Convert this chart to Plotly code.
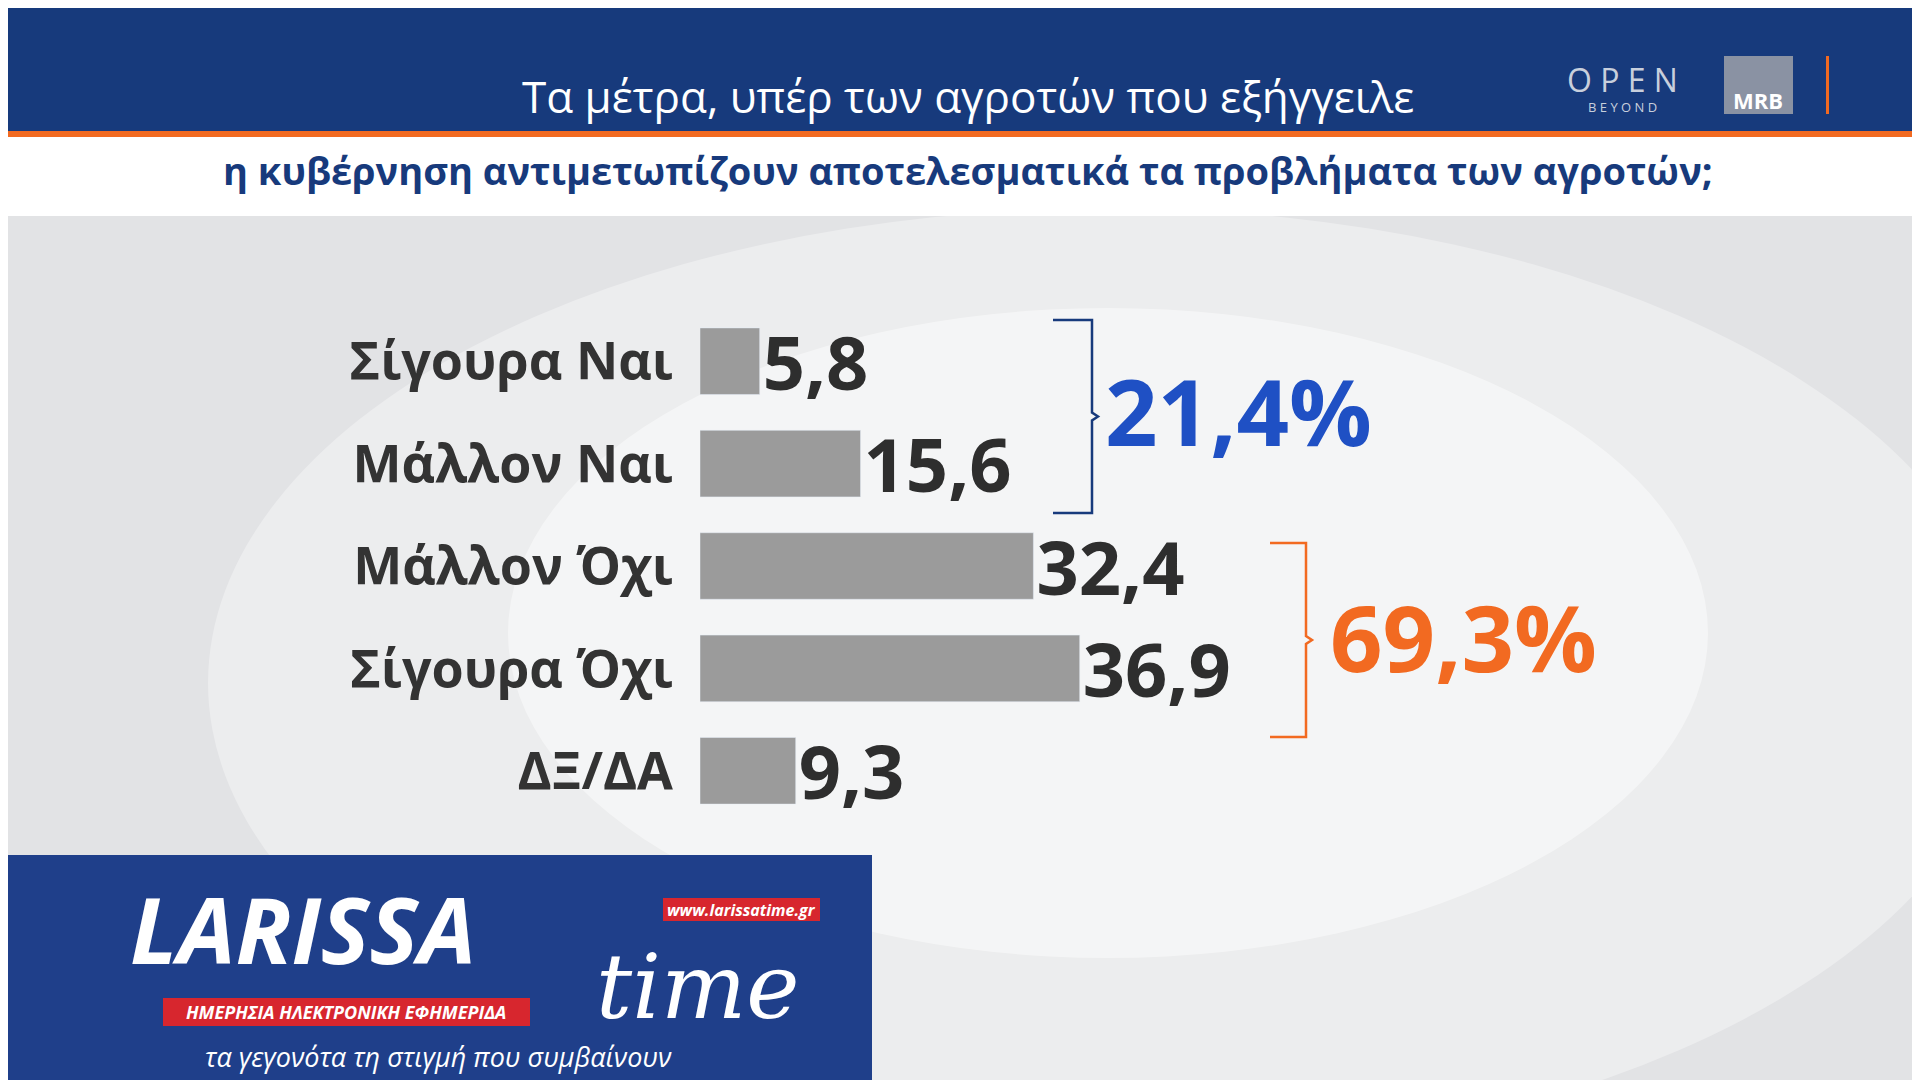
import plotly.graph_objects as go

categories = ["Σίγουρα Ναι", "Μάλλον Ναι", "Μάλλον Όχι", "Σίγουρα Όχι", "ΔΞ/ΔΑ"]
values = [5.8, 15.6, 32.4, 36.9, 9.3]
value_labels = ["5,8", "15,6", "32,4", "36,9", "9,3"]
group_yes = "21,4%"
group_no = "69,3%"

W, H = 1920, 1080
def px(x): return x / W
def py(y): return 1 - y / H

fig = go.Figure()
fig.add_trace(go.Bar(
    x=values, y=categories, orientation="h", width=0.65,
    marker=dict(color="#9b9b9b"),
    text=value_labels, textposition="outside", cliponaxis=False, constraintext="none",
    textfont=dict(family="Open Sans", size=74, color="#2e2e2e", weight="bold"),
    hoverinfo="skip",
))

shapes = [
    dict(type="rect", xref="paper", yref="paper", x0=0, x1=1, y0=0, y1=1, fillcolor="#e2e3e5", line_width=0, layer="below"),
    dict(type="circle", xref="paper", yref="paper", x0=px(200), x1=px(2000), y0=py(1150), y1=py(200), fillcolor="rgba(255,255,255,0.35)", line_width=0, layer="below"),
    dict(type="circle", xref="paper", yref="paper", x0=px(500), x1=px(1700), y0=py(950), y1=py(300), fillcolor="rgba(255,255,255,0.45)", line_width=0, layer="below"),
    dict(type="rect", xref="paper", yref="paper", x0=0, x1=1, y0=py(123), y1=1, fillcolor="#173a7c", line_width=0),
    dict(type="rect", xref="paper", yref="paper", x0=0, x1=1, y0=py(129), y1=py(123), fillcolor="#f26a21", line_width=0),
    dict(type="rect", xref="paper", yref="paper", x0=0, x1=1, y0=py(208), y1=py(129), fillcolor="#ffffff", line_width=0),
    dict(type="rect", xref="paper", yref="paper", x0=px(1818), x1=px(1821), y0=py(106), y1=py(48), fillcolor="#f26a21", line_width=0),
    dict(type="rect", xref="paper", yref="paper", x0=px(1716), x1=px(1785), y0=py(106), y1=py(48), fillcolor="#8a92a3", line_width=0),
    dict(type="rect", xref="paper", yref="paper", x0=0, x1=px(864), y0=0, y1=py(847), fillcolor="#1f3f8a", line_width=0),
    dict(type="rect", xref="paper", yref="paper", x0=px(155), x1=px(522), y0=py(1018), y1=py(990), fillcolor="#d7262e", line_width=0),
    dict(type="rect", xref="paper", yref="paper", x0=px(655), x1=px(812), y0=py(913), y1=py(890), fillcolor="#d7262e", line_width=0),
]
def bracket(x0, x1, y0, y1, color):
    ym = (y0 + y1) / 2
    path = (f"M {px(x0)},{py(y0)} L {px(x1-6)},{py(y0)} L {px(x1-6)},{py(ym-4)} L {px(x1)},{py(ym)} "
            f"L {px(x1-6)},{py(ym+4)} L {px(x1-6)},{py(y1)} L {px(x0)},{py(y1)}")
    return dict(type="path", xref="paper", yref="paper", path=path, line=dict(color=color, width=2.5))
shapes.append(bracket(1045, 1090, 312, 505, "#173a7c"))
shapes.append(bracket(1262, 1304, 535, 729, "#f26a21"))

ann = [
    dict(x=px(960), y=py(88), text="Τα μέτρα, υπέρ των αγροτών που εξήγγειλε", font=dict(family="Open Sans", size=44, color="white")),
    dict(x=px(960), y=py(162), text="<b>η κυβέρνηση αντιμετωπίζουν αποτελεσματικά τα προβλήματα των αγροτών;</b>", font=dict(family="Open Sans", size=38, color="#173a7c")),
    dict(x=px(1614), y=py(72), text="O P E N", font=dict(family="Open Sans", size=32, color="#c8cfdc")),
    dict(x=px(1614), y=py(99), text="B E Y O N D", font=dict(family="Open Sans", size=13, color="#c8cfdc")),
    dict(x=px(1750), y=py(92), text="<b>MRB</b>", font=dict(family="Open Sans", size=22, color="white")),
    dict(x=px(1230), y=py(402), text="<b>" + group_yes + "</b>", font=dict(family="Open Sans", size=92, color="#1f50c4")),
    dict(x=px(1455), y=py(628), text="<b>" + group_no + "</b>", font=dict(family="Open Sans", size=92, color="#f26a21")),
    dict(x=px(295), y=py(920), text="<b><i>LARISSA</i></b>", font=dict(family="Open Sans", size=92, color="white")),
    dict(x=px(690), y=py(978), text="<i>time</i>", font=dict(family="DejaVu Serif", size=90, color="white")),
    dict(x=px(338), y=py(1004), text="<b><i>ΗΜΕΡΗΣΙΑ ΗΛΕΚΤΡΟΝΙΚΗ ΕΦΗΜΕΡΙΔΑ</i></b>", font=dict(family="Open Sans", size=18, color="white")),
    dict(x=px(733), y=py(902), text="<b><i>www.larissatime.gr</i></b>", font=dict(family="Open Sans", size=16, color="white")),
    dict(x=px(430), y=py(1048), text="<i>τα γεγονότα τη στιγμή που συμβαίνουν</i>", font=dict(family="Open Sans", size=27, color="white")),
]
for a in ann:
    a.update(xref="paper", yref="paper", showarrow=False, xanchor="center", yanchor="middle")

fig.update_layout(
    width=W, height=H, margin=dict(l=0, r=0, t=0, b=0),
    paper_bgcolor="#e2e3e5", plot_bgcolor="rgba(0,0,0,0)",
    shapes=shapes, annotations=ann, showlegend=False,
    xaxis=dict(domain=[px(692), 1], range=[0, (W - 692) / 10.29], visible=False),
    yaxis=dict(domain=[py(814), py(302)], categoryorder="array", categoryarray=categories,
               range=[4.5, -0.5], showgrid=False, zeroline=False, showline=False,
               ticks="", ticklabelstandoff=26,
               tickfont=dict(family="Open Sans", size=52, color="#333333", weight="bold")),
)
fig.write_html("out.html")
